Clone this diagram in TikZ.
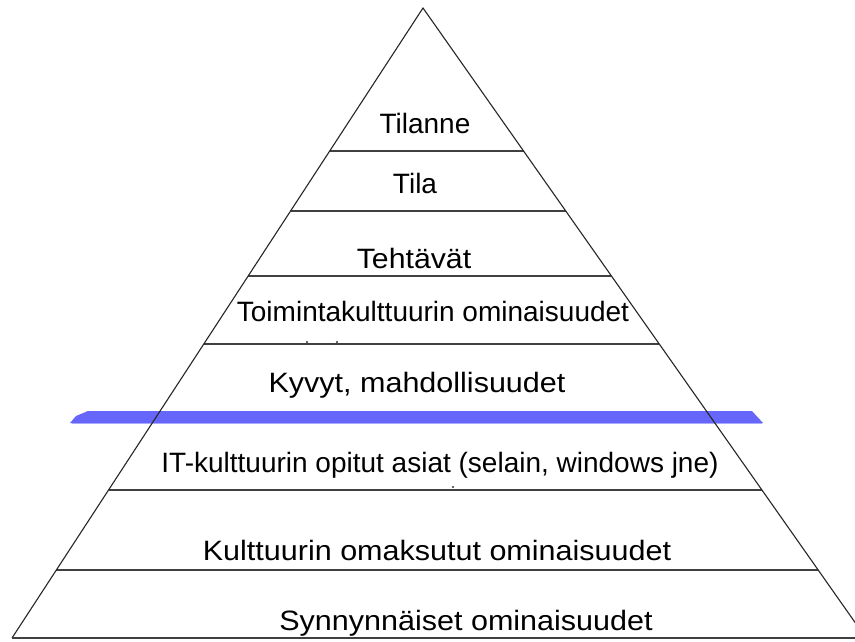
\documentclass[tikz,border=0pt]{standalone}
\usepackage{fontspec}
\setmainfont{Liberation Sans}
\usepackage{graphicx}
\usetikzlibrary{calc}
\definecolor{it-blue}{RGB}{102,102,250}
\definecolor{it-blue-light}{RGB}{170,170,255}

\begin{document}
\begin{tikzpicture}[x=1pt, y=-1pt,
    edge/.style={line width=1.1pt, color=black!85},
    layer/.style={line width=1.6pt, color=black!75},
    lbl/.style={anchor=base, inner sep=0pt, font=\fontsize{28}{30}\selectfont}]

    \useasboundingbox (0,0) rectangle (855,641);
    \clip (0,0) rectangle (855,641);

    % corners of the pyramid
    \coordinate (apex) at (423,8);
    \coordinate (bl) at (12,638);
    \coordinate (br) at (866,638);

    % blue border between the layers
    \fill[it-blue] (70,423) -- (76,416) -- (88,411) -- (752,411) -- (763,423) -- cycle;
    \draw[it-blue-light, line width=1pt] (72,423.5) -- (762,423.5);

    % layers
    \foreach \y [evaluate=\y as \t using (\y-8)/630] in {151,211,276,344,490,570}
        \draw[layer] ($(apex)!\t!(bl)$) -- ($(apex)!\t!(br)$);

    % pyramid
    \draw[edge] (bl) -- (apex) -- (br);
    \draw[layer] (bl) -- (br);

    % small specks
    \fill[black!80] (307,342) circle (1.2pt);
    \fill[black!80] (337,342) circle (1.2pt);
    \fill[black!80] (453,487) circle (1.2pt);

    % labels
    \node[lbl] (tilanne) at (425,133) {Tilanne};
    \node[lbl] (tila) at (415,193) {Tila};
    \node[lbl] (tehtavat) at (414,268) {\scalebox{1.08}[1]{Tehtävät}};
    \node[lbl] (toiminta) at (433,321) {Toimintakulttuurin ominaisuudet};
    \node[lbl] (kyvyt) at (417,392) {\scalebox{1.09}[1]{Kyvyt, mahdollisuudet}};
    \node[lbl] (itkult) at (440,472) {IT-kulttuurin opitut asiat (selain, windows jne)};
    \node[lbl] (kulttuuri) at (437,560) {\scalebox{1.09}[1]{Kulttuurin omaksutut ominaisuudet}};
    \node[lbl] (synnyn) at (466,630) {\scalebox{1.09}[1]{Synnynnäiset ominaisuudet}};

\end{tikzpicture}
\end{document}
